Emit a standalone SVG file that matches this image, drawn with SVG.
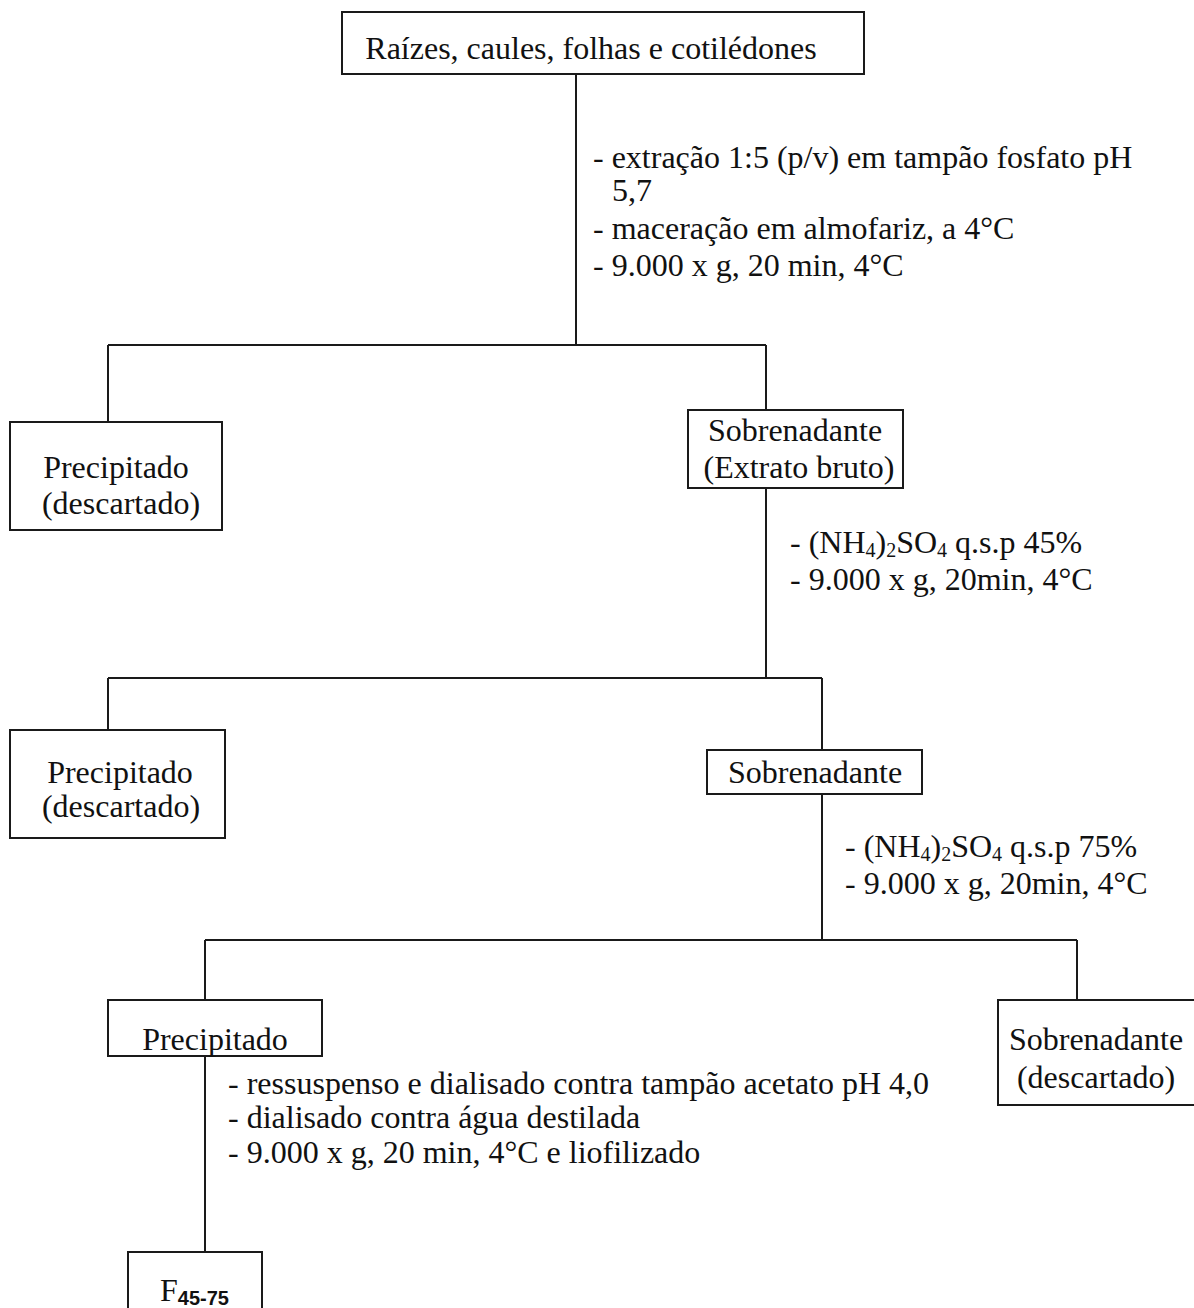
<svg xmlns="http://www.w3.org/2000/svg" width="1194" height="1308" viewBox="0 0 1194 1308">
<style>
  .box { fill: #ffffff; stroke: #1a1a1a; stroke-width: 2; }
  .ln { fill: none; stroke: #1a1a1a; stroke-width: 2; }
  text { font-family: "Liberation Serif", "Times New Roman", serif; font-size: 32px; fill: #111111; }
  .c { text-anchor: middle; }
  .sub { font-size: 20px; }
  .fsub { font-family: "Liberation Sans", Arial, sans-serif; font-size: 20px; font-weight: bold; }
</style>
<rect width="1194" height="1308" fill="#ffffff"/>
<g id="connectors">
  <path class="ln" d="M576 74 V345 M108 345 H766 M108 345 V422 M766 345 V410"/>
  <path class="ln" d="M766 488 V678 M108 678 H822 M108 678 V730 M822 678 V750"/>
  <path class="ln" d="M822 794 V940 M205 940 H1077 M205 940 V1000 M1077 940 V1000"/>
  <path class="ln" d="M205 1056 V1252"/>
</g>
<g id="node-start">
  <rect class="box" x="342" y="12" width="522" height="62"/>
  <text class="c" x="591" y="59">Raízes, caules, folhas e cotilédones</text>
</g>
<g id="label-step1">
  <text x="593" y="168">- extração 1:5 (p/v) em tampão fosfato pH</text>
  <text x="612" y="201">5,7</text>
  <text x="593" y="239">- maceração em almofariz, a 4°C</text>
  <text x="593" y="276">- 9.000 x g, 20 min,  4°C</text>
</g>
<g id="node-precipitado1">
  <rect class="box" x="10" y="422" width="212" height="108"/>
  <text class="c" x="116" y="478">Precipitado</text>
  <text class="c" x="121" y="514">(descartado)</text>
</g>
<g id="node-sobrenadante1">
  <rect class="box" x="688" y="410" width="215" height="78"/>
  <text class="c" x="795" y="441">Sobrenadante</text>
  <text class="c" x="799" y="478">(Extrato bruto)</text>
</g>
<g id="label-step2">
  <text x="790" y="553">- (NH<tspan class="sub" dy="4">4</tspan><tspan dy="-4">)</tspan><tspan class="sub" dy="4">2</tspan><tspan dy="-4">SO</tspan><tspan class="sub" dy="4">4</tspan><tspan dy="-4"> q.s.p 45%</tspan></text>
  <text x="790" y="590">- 9.000 x g, 20min, 4°C</text>
</g>
<g id="node-precipitado2">
  <rect class="box" x="10" y="730" width="215" height="108"/>
  <text class="c" x="120" y="783">Precipitado</text>
  <text class="c" x="121" y="817">(descartado)</text>
</g>
<g id="node-sobrenadante2">
  <rect class="box" x="707" y="750" width="215" height="44"/>
  <text class="c" x="815" y="783">Sobrenadante</text>
</g>
<g id="label-step3">
  <text x="845" y="857">- (NH<tspan class="sub" dy="4">4</tspan><tspan dy="-4">)</tspan><tspan class="sub" dy="4">2</tspan><tspan dy="-4">SO</tspan><tspan class="sub" dy="4">4</tspan><tspan dy="-4"> q.s.p 75%</tspan></text>
  <text x="845" y="894">- 9.000 x g, 20min, 4°C</text>
</g>
<g id="node-precipitado3">
  <rect class="box" x="108" y="1000" width="214" height="56"/>
  <text class="c" x="215" y="1050">Precipitado</text>
</g>
<g id="node-sobrenadante3">
  <rect class="box" x="998" y="1000" width="210" height="105"/>
  <text class="c" x="1096" y="1050">Sobrenadante</text>
  <text class="c" x="1096" y="1088">(descartado)</text>
</g>
<g id="label-step4">
  <text x="228" y="1094">- ressuspenso e dialisado contra tampão acetato pH 4,0</text>
  <text x="228" y="1128">- dialisado contra água destilada</text>
  <text x="228" y="1163">- 9.000 x g, 20 min, 4°C e liofilizado</text>
</g>
<g id="node-f">
  <rect class="box" x="128" y="1252" width="134" height="70"/>
  <text x="160" y="1301">F<tspan class="fsub" dy="4">45-75</tspan></text>
</g>
</svg>
